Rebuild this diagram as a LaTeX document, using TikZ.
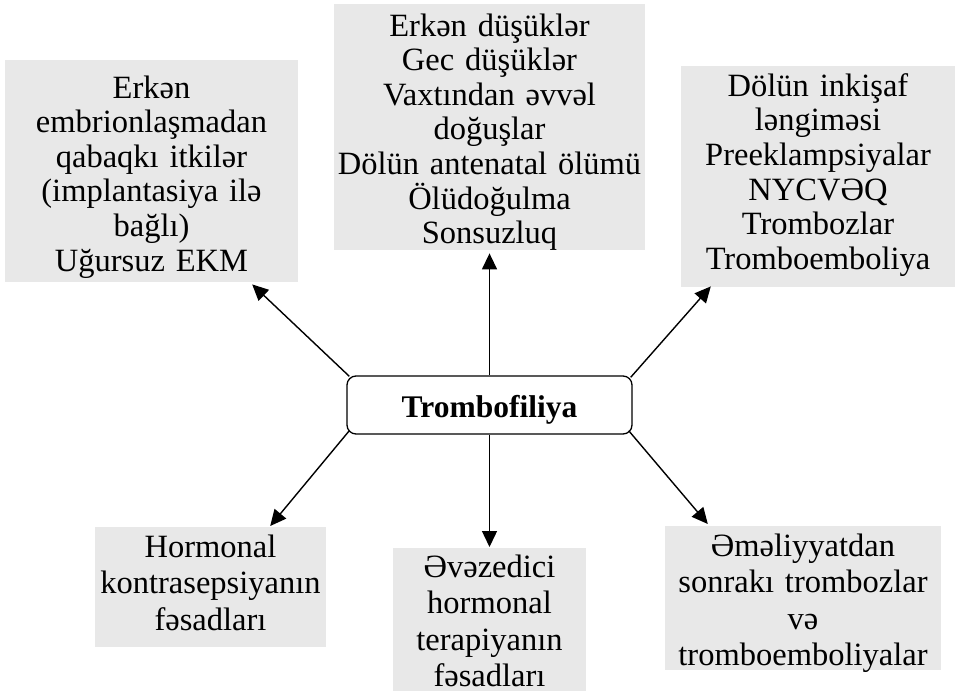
\documentclass[tikz,border=0pt]{standalone}
\usepackage{fontspec}
\setmainfont{Liberation Serif}
\usetikzlibrary{arrows.meta}
\definecolor{boxgray}{HTML}{E8E8E8}
\begin{document}
\begin{tikzpicture}[x=1pt,y=-1pt,
  box/.style={fill=boxgray, inner sep=0pt, align=center},
  topfont/.style={font=\fontsize{32.5}{34.6}\selectfont},
  botfont/.style={font=\fontsize{32.5}{36.4}\selectfont},
  centre/.style={draw=black, line width=1.3pt, rounded corners=9pt, fill=white,
    minimum width=285pt, minimum height=58pt, inner sep=0pt,
    font=\fontsize{31.5}{34}\selectfont\bfseries},
  arr/.style={line width=1.4pt, -{Triangle[length=16pt,width=15pt]}}]
\fill[white] (0,0) rectangle (957,690);
\useasboundingbox (0,0) rectangle (957,690);
\clip (0,0) rectangle (957,690);

\node[box, topfont, text width=293pt, text height=38pt, text depth=184pt] (b1) at (151.5,60)
  [anchor=north] {Erkən\\embrionlaşmadan\\qabaqkı itkilər\\(implantasiya ilə\\bağlı)\\Uğursuz EKM};
\node[box, topfont, text width=311pt, text height=32pt, text depth=214pt] (b2) at (489.5,4)
  [anchor=north] {Erkən düşüklər\\Gec düşüklər\\Vaxtından əvvəl\\doğuşlar\\Dölün antenatal ölümü\\Ölüdoğulma\\Sonsuzluq};
\node[box, topfont, text width=274pt, text height=30pt, text depth=191pt] (b3) at (818,66)
  [anchor=north] {Dölün inkişaf\\ləngiməsi\\Preeklampsiyalar\\NYCVƏQ\\Trombozlar\\Tromboemboliya};
\node[box, botfont, text width=231pt, text height=30pt, text depth=90pt] (b4) at (210.5,527)
  [anchor=north] {Hormonal\\kontrasepsiyanın\\fəsadları};
\node[box, botfont, text width=193pt, text height=29pt, text depth=133pt] (b5) at (489.5,548)
  [anchor=north] {Əvəzedici\\hormonal\\terapiyanın\\fəsadları};
\node[box, botfont, text width=276pt, text height=30pt, text depth=114pt] (b6) at (803,526)
  [anchor=north] {Əməliyyatdan\\sonrakı trombozlar\\və\\tromboemboliyalar};

\node[centre, text height=24pt, text depth=0pt] (c) at (489.5,405) {Trombofiliya};

\draw[arr] ([shift={(3,1)}]c.north west) -- ([shift={(-46,2)}]b1.south east);
\draw[arr] (c.north) -- ([shift={(0,3)}]b2.south);
\draw[arr] ([shift={(-2,2)}]c.north east) -- ([shift={(30,-1)}]b3.south west);
\draw[arr] ([shift={(3,-4)}]c.south west) -- ([shift={(-56,-1)}]b4.north east);
\draw[arr] (c.south) -- ([shift={(0,-1)}]b5.north);
\draw[arr] ([shift={(-4,-4)}]c.south east) -- ([shift={(43,-2)}]b6.north west);
\end{tikzpicture}
\end{document}
